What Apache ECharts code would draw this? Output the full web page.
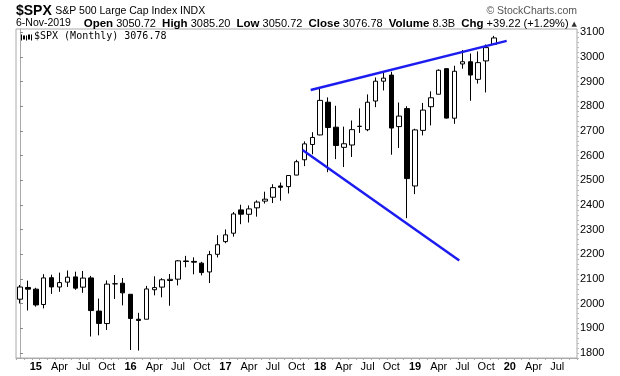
<!DOCTYPE html>
<html>
<head>
<meta charset="utf-8">
<script src="https://cdn.jsdelivr.net/npm/echarts@6/dist/echarts.min.js"></script>
<style>
  html, body { margin: 0; padding: 0; background: #fff; }
  #chart { width: 620px; height: 376px; }
</style>
</head>
<body>
<div id="chart"></div>
<script>
// monthly bars, Nov 2014 .. Nov 2019, axis runs on to Sep 2020
var months = [
  '2014-11', '2014-12',
  '2015-01', '2015-02', '2015-03', '2015-04', '2015-05', '2015-06', '2015-07', '2015-08', '2015-09', '2015-10', '2015-11', '2015-12',
  '2016-01', '2016-02', '2016-03', '2016-04', '2016-05', '2016-06', '2016-07', '2016-08', '2016-09', '2016-10', '2016-11', '2016-12',
  '2017-01', '2017-02', '2017-03', '2017-04', '2017-05', '2017-06', '2017-07', '2017-08', '2017-09', '2017-10', '2017-11', '2017-12',
  '2018-01', '2018-02', '2018-03', '2018-04', '2018-05', '2018-06', '2018-07', '2018-08', '2018-09', '2018-10', '2018-11', '2018-12',
  '2019-01', '2019-02', '2019-03', '2019-04', '2019-05', '2019-06', '2019-07', '2019-08', '2019-09', '2019-10', '2019-11', '2019-12',
  '2020-01', '2020-02', '2020-03', '2020-04', '2020-05', '2020-06', '2020-07', '2020-08', '2020-09'
];

var opens = [
  2018.21, 2065.78,
  2058.90, 1996.67, 2105.23, 2067.63, 2087.38, 2108.64, 2067.00, 2104.49, 1970.09, 1919.65, 2080.76, 2082.93,
  2038.20, 1936.94, 1937.09, 2056.62, 2067.17, 2093.94, 2099.34, 2173.15, 2171.33, 2164.33, 2128.68, 2200.17,
  2251.57, 2285.59, 2380.13, 2362.34, 2388.50, 2415.65, 2431.39, 2477.10, 2474.42, 2521.20, 2583.21, 2645.10,
  2683.73, 2816.45, 2715.22, 2633.45, 2642.96, 2718.70, 2704.95, 2821.17, 2901.61, 2926.29, 2717.58, 2790.50,
  2476.96, 2702.32, 2798.22, 2848.63, 2952.33, 2751.53, 2971.41, 2980.32, 2909.01, 2983.69, 3050.72
];
var highs = [
  2075.76, 2093.55,
  2064.43, 2119.59, 2117.52, 2125.92, 2134.72, 2129.87, 2132.82, 2112.66, 2020.86, 2094.32, 2116.48, 2104.27,
  2038.20, 1962.96, 2072.21, 2111.05, 2103.48, 2120.55, 2177.09, 2193.81, 2187.87, 2169.60, 2214.10, 2277.53,
  2300.99, 2371.54, 2400.98, 2398.16, 2418.71, 2453.82, 2484.04, 2490.87, 2519.44, 2582.98, 2657.74, 2694.97,
  2872.87, 2835.96, 2801.90, 2717.49, 2742.24, 2791.47, 2848.03, 2916.50, 2940.91, 2939.86, 2815.15, 2800.18,
  2708.95, 2813.49, 2860.31, 2949.52, 2954.13, 2964.15, 3027.98, 3013.59, 3021.99, 3050.10, 3085.20
];
var lows = [
  2001.01, 1972.56,
  1988.12, 1980.90, 2039.69, 2048.38, 2067.93, 2056.32, 2044.02, 1867.01, 1871.91, 1893.70, 2019.39, 1993.26,
  1812.29, 1810.10, 1937.09, 2033.80, 2025.91, 1991.68, 2074.02, 2147.58, 2119.12, 2114.72, 2083.79, 2187.44,
  2245.13, 2271.65, 2322.25, 2328.95, 2352.72, 2405.70, 2407.70, 2417.35, 2446.55, 2520.40, 2557.45, 2605.52,
  2682.36, 2532.69, 2585.89, 2553.80, 2594.62, 2691.99, 2698.95, 2796.34, 2864.12, 2603.54, 2631.09, 2346.58,
  2443.96, 2681.83, 2722.27, 2848.63, 2750.52, 2728.81, 2952.22, 2822.12, 2891.85, 2855.94, 3050.72
];
var closes = [
  2067.56, 2058.90,
  1994.99, 2104.50, 2067.89, 2085.51, 2107.39, 2063.11, 2103.84, 1972.18, 1920.03, 2079.36, 2080.41, 2043.94,
  1940.24, 1932.23, 2059.74, 2065.30, 2096.95, 2098.86, 2173.60, 2170.95, 2168.27, 2126.15, 2198.81, 2238.83,
  2278.87, 2363.64, 2362.72, 2384.20, 2411.80, 2423.41, 2470.30, 2471.65, 2519.36, 2575.26, 2647.58, 2673.61,
  2823.81, 2713.83, 2640.87, 2648.05, 2705.27, 2718.37, 2816.29, 2901.52, 2913.98, 2711.74, 2760.17, 2506.85,
  2704.10, 2784.49, 2834.40, 2945.83, 2752.06, 2941.76, 2980.38, 2926.46, 2976.74, 3037.56, 3076.78
];

// hand-drawn trend lines, [month index, price]
var upperTrend = [[36.8, 2866], [61.6, 3065]];
var lowerTrend = [[35.76, 2623], [55.6, 2175]];

var yLabels = [1800, 1900, 2000, 2100, 2200, 2300, 2400, 2500, 2600, 2700, 2800, 2900, 3000, 3100];
var yMin = 1780, yMax = 3113;

var monthNames = ['Jan', 'Feb', 'Mar', 'Apr', 'May', 'Jun', 'Jul', 'Aug', 'Sep', 'Oct', 'Nov', 'Dec'];

var candles = opens.map(function (o, i) {
  return [o, closes[i], lows[i], highs[i]];
});

var minorTicks = [];
for (var t = 1780; t <= 3100; t += 20) minorTicks.push(t);

var chart = echarts.init(document.getElementById('chart'));

var font = '"Liberation Sans", Arial, sans-serif';

var option = {
  animation: false,
  backgroundColor: '#fff',
  textStyle: { fontFamily: font },
  grid: {
    left: 16,
    right: 43,
    top: 29,
    bottom: 18,
    show: true,
    borderColor: '#aaa',
    borderWidth: 1
  },
  xAxis: [
    {
      type: 'category',
      data: months,
      boundaryGap: true,
      axisLine: { show: true, lineStyle: { color: '#aaa' } },
      axisTick: {
        show: true,
        interval: 0,
        length: 2,
        lineStyle: { color: '#aaa' }
      },
      axisLabel: {
        interval: function (index) { return index % 3 === 2; },
        margin: 3,
        fontSize: 11,
        color: '#000',
        formatter: function (value) {
          var parts = value.split('-');
          var m = parseInt(parts[1], 10);
          if (m === 1) return '{y|' + parts[0].slice(2) + '}';
          return monthNames[m - 1];
        },
        rich: {
          y: { fontWeight: 'bold', fontSize: 11, color: '#000' }
        }
      },
      splitLine: { show: false }
    },
    {
      type: 'value',
      min: -0.5,
      max: months.length - 0.5,
      show: false
    }
  ],
  yAxis: [
    {
      type: 'value',
      position: 'right',
      min: yMin,
      max: yMax,
      axisLine: { show: true, lineStyle: { color: '#aaa' } },
      axisTick: {
        show: true,
        length: 3,
        customValues: yLabels,
        lineStyle: { color: '#888' }
      },
      axisLabel: {
        customValues: yLabels,
        margin: 3,
        fontSize: 11,
        color: '#000',
        formatter: function (v) { return String(v); }
      },
      splitLine: { show: false }
    },
    {
      type: 'value',
      position: 'right',
      min: yMin,
      max: yMax,
      axisLine: { show: false },
      axisTick: {
        show: true,
        length: 2,
        customValues: minorTicks,
        lineStyle: { color: '#bbb' }
      },
      axisLabel: { show: false },
      splitLine: { show: false }
    }
  ],
  series: [
    {
      type: 'candlestick',
      data: candles,
      barWidth: 5,
      itemStyle: {
        color: '#fff',
        color0: '#000',
        borderColor: '#000',
        borderColor0: '#000',
        borderWidth: 1
      },
      silent: true
    },
    {
      type: 'line',
      xAxisIndex: 1,
      data: upperTrend,
      symbol: 'none',
      lineStyle: { color: '#1c1cf0', width: 2.5 },
      silent: true
    },
    {
      type: 'line',
      xAxisIndex: 1,
      data: lowerTrend,
      symbol: 'none',
      lineStyle: { color: '#1c1cf0', width: 2.5 },
      silent: true
    }
  ],
  graphic: [
    {
      type: 'text',
      left: 16,
      top: 4,
      style: {
        text: '{a|$SPX} {b|S&P 500 Large Cap Index INDX}',
        rich: {
          a: { fontFamily: font, fontWeight: 'bold', fontSize: 14, fill: '#000' },
          b: { fontFamily: font, fontSize: 10.5, fill: '#000' }
        }
      }
    },
    {
      type: 'text',
      left: 16,
      top: 18,
      style: { text: '6-Nov-2019', fontFamily: font, fontSize: 10.5, fill: '#000' }
    },
    {
      type: 'text',
      right: 43,
      top: 18,
      style: {
        text: '{b|Open} 3050.72  {b|High} 3085.20  {b|Low} 3050.72  {b|Close} 3076.78  {b|Volume} 8.3B  {b|Chg} +39.22 (+1.29%) {t|▲}',
        fontFamily: font,
        fontSize: 11,
        fill: '#000',
        rich: {
          b: { fontFamily: font, fontWeight: 'bold', fontSize: 11.5, fill: '#000' },
          t: { fontFamily: '"DejaVu Sans", sans-serif', fontSize: 7, fill: '#333' }
        }
      }
    },
    {
      type: 'text',
      right: 43,
      top: 6,
      style: { text: '\u00a9 StockCharts.com', fontFamily: font, fontSize: 10.5, fill: '#555' }
    },
    // small candle icon in front of the series label
    {
      type: 'group',
      left: 19,
      top: 32,
      children: [
        { type: 'line', shape: { x1: 0.5, y1: 0, x2: 0.5, y2: 6 }, style: { stroke: '#000', lineWidth: 1 } },
        { type: 'rect', shape: { x: 2, y: 1, width: 2, height: 4 }, style: { fill: '#000' } },
        { type: 'line', shape: { x1: 5.5, y1: 1, x2: 5.5, y2: 6 }, style: { stroke: '#000', lineWidth: 1 } },
        { type: 'rect', shape: { x: 7, y: 0, width: 2, height: 5 }, style: { fill: '#000' } },
        { type: 'line', shape: { x1: 10.5, y1: 0, x2: 10.5, y2: 6 }, style: { stroke: '#000', lineWidth: 1 } }
      ]
    },
    {
      type: 'text',
      left: 34,
      top: 31,
      style: {
        text: '$SPX (Monthly) 3076.78',
        fontFamily: '"DejaVu Sans Mono", monospace',
        fontSize: 10,
        fill: '#000'
      }
    }
  ]
};

chart.setOption(option);
</script>
</body>
</html>
